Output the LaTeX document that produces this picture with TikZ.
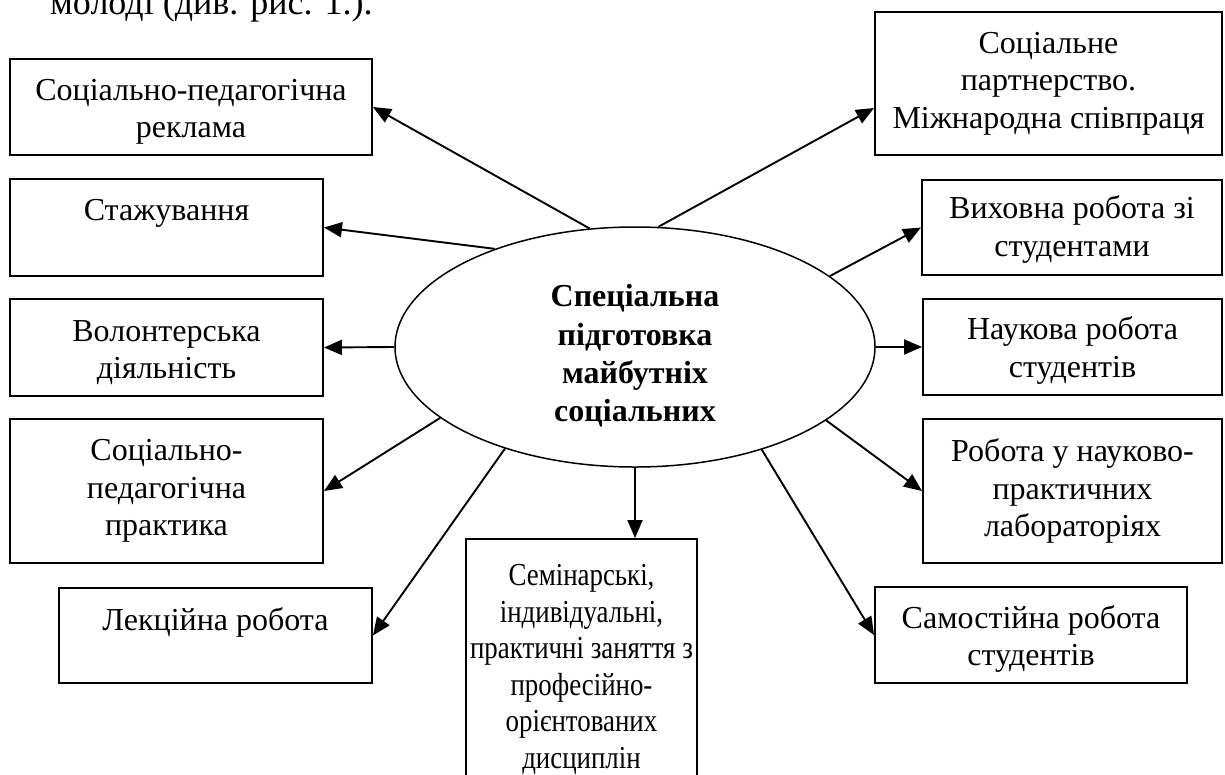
\documentclass[tikz,border=0pt]{standalone}
\usepackage{fontspec}
\setmainfont{Liberation Serif}
\newfontfamily\narrowserif[FakeStretch=0.84]{Liberation Serif}
\usetikzlibrary{arrows.meta,shapes.geometric,calc}
\newcommand{\tstrut}[1]{\rule{0pt}{#1}}
\begin{document}
\begin{tikzpicture}[x=1pt,y=-1pt,
  box/.style={draw, line width=1.9pt, align=center, inner sep=0pt,
    font=\fontsize{32}{37.5}\selectfont},
  conn/.style={line width=1.9pt, -{Triangle[length=18pt,width=15pt]}}]
\useasboundingbox[fill=white] (0,0) rectangle (1225,774);

% partially visible line of preceding text
\node[anchor=base west, inner sep=0pt, font=\fontsize{36}{40}\selectfont] (toptext) at (50,14) {молоді (див. рис. 1.).};

% centre
\node[ellipse, draw, line width=1.5pt, minimum width=480pt, minimum height=240pt, inner sep=0pt] (c) at (635,347) {};
\node[align=center, inner sep=0pt, font=\bfseries\fontsize{32}{38.3}\selectfont] (ct) at (635,356) {Спеціальна\\підготовка\\майбутніх\\соціальних};

% left boxes
\node[box, minimum width=362pt, minimum height=96pt] (b1) at (191,107) {\tstrut{31pt}Соціально-педагогічна\\реклама};
\node[box, minimum width=313pt, minimum height=97pt] (b2) at (166.5,227.5) {\tstrut{34pt}Стажування\\\strut};
\node[box, minimum width=313pt, minimum height=97pt] (b3) at (166.5,347.5) {\tstrut{31pt}Волонтерська\\діяльність};
\node[box, minimum width=313pt, minimum height=144pt] (b4) at (166.5,491) {Соціально-\\педагогічна\\практика};
\node[box, minimum width=313pt, minimum height=95pt] (b5) at (215.5,635.5) {\tstrut{38pt}Лекційна робота\\\strut};

% bottom box
\node[box, minimum width=231pt, minimum height=261pt, font=\narrowserif\fontsize{32}{36.5}\selectfont] (b6) at (581.5,669.5) {Семінарські,\\індивідуальні,\\практичні заняття з\\професійно-\\орієнтованих\\дисциплін};

% right boxes
\node[box, minimum width=347pt, minimum height=143pt] (b7) at (1048.5,83.5) {Соціальне\\партнерство.\\Міжнародна співпраця};
\node[box, minimum width=300pt, minimum height=95pt] (b8) at (1072,227.5) {\tstrut{27pt}Виховна робота зі\\студентами};
\node[box, minimum width=299pt, minimum height=96pt] (b9) at (1072.5,347) {\tstrut{30pt}Наукова робота\\студентів};
\node[box, minimum width=299pt, minimum height=144pt] (b10) at (1072.5,491) {Робота у науково-\\практичних\\лабораторіях};
\node[box, minimum width=312pt, minimum height=96pt] (b11) at (1031,635) {\tstrut{31pt}Самостійна робота\\студентів};

% connectors
\draw[conn] (c.111.8) -- (b1.east);
\draw[conn] (c.145.9) -- (b2.east);
\draw[conn] (c.west) -- (b3.east);
\draw[conn] (c.200.8) -- (b4.east);
\draw[conn] (c.218.9) -- (b5.east);
\draw[conn] (c.south) -- (c.south |- b6.north);
\draw[conn] (c.321.3) -- (b11.west);
\draw[conn] (c.339.3) -- (b10.west);
\draw[conn] (c.east) -- (b9.west);
\draw[conn] (c.20.7) -- (b8.west);
\draw[conn] (c.79.2) -- ([yshift=-24.5pt]b7.west);
\end{tikzpicture}
\end{document}
